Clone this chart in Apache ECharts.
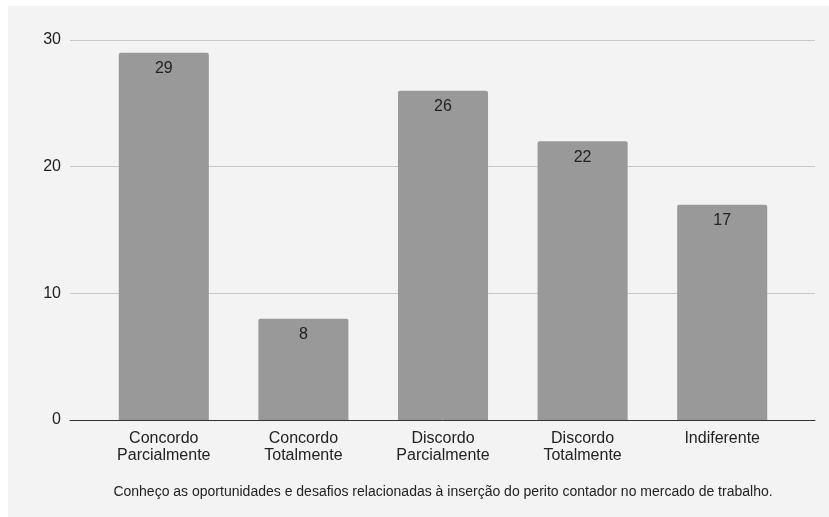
<!DOCTYPE html>
<html>
<head>
<meta charset="utf-8">
<script src="https://cdn.jsdelivr.net/npm/echarts@6/dist/echarts.min.js"></script>
<style>
  html, body { margin: 0; padding: 0; background: #ffffff; }
  #chart { position: absolute; left: 8px; top: 6px; width: 821px; height: 511px; }
</style>
</head>
<body>
<div id="chart"></div>
<script>
// Respostas por categoria
const categories = [
  'Concordo\nParcialmente',
  'Concordo\nTotalmente',
  'Discordo\nParcialmente',
  'Discordo\nTotalmente',
  'Indiferente'
];
const values = [29, 8, 26, 22, 17];
const yTicks = { min: 0, max: 30, interval: 10 };
const subtitle = 'Conheço as oportunidades e desafios relacionadas à inserção do perito contador no mercado de trabalho.';

const FONT = '"Liberation Sans", Arial, sans-serif';
const TEXT = '#222222';

const chart = echarts.init(document.getElementById('chart'), null, { renderer: 'canvas' });

chart.setOption({
  backgroundColor: '#f3f3f3',
  animation: false,
  grid: [
    // wide grid: gridlines, y labels and baseline
    { left: 62, right: 14, top: 34, bottom: 97 },
    // inner grid: bars and category labels
    { left: 86, right: 37, top: 34, bottom: 97 }
  ],
  xAxis: [
    {
      gridIndex: 0, type: 'category', data: [''],
      axisLine: { show: true, lineStyle: { color: '#333333', width: 1 } },
      axisTick: { show: false }, axisLabel: { show: false }
    },
    {
      gridIndex: 1, type: 'category', data: categories,
      axisLine: { show: false }, axisTick: { show: false },
      axisLabel: {
        fontFamily: FONT, fontSize: 16, color: TEXT,
        lineHeight: 17, margin: 10, interval: 0
      }
    }
  ],
  yAxis: [
    {
      gridIndex: 0, type: 'value',
      min: yTicks.min, max: yTicks.max, interval: yTicks.interval,
      axisLine: { show: false }, axisTick: { show: false },
      splitLine: { lineStyle: { color: '#c8c8c8', width: 1 } },
      axisLabel: { fontFamily: FONT, fontSize: 16, color: TEXT, margin: 9 }
    },
    {
      gridIndex: 1, type: 'value',
      min: yTicks.min, max: yTicks.max, interval: yTicks.interval,
      show: false
    }
  ],
  series: [{
    type: 'bar',
    xAxisIndex: 1, yAxisIndex: 1,
    data: values,
    barWidth: '64.5%',
    itemStyle: { color: '#999999', borderRadius: [2, 2, 0, 0] },
    label: {
      show: true, position: 'insideTop', distance: 8,
      fontFamily: FONT, fontSize: 16, color: TEXT
    }
  }],
  graphic: [{
    type: 'text',
    x: 435, y: 486,
    style: {
      text: subtitle,
      font: '14px ' + FONT,
      fill: TEXT,
      textAlign: 'center',
      textVerticalAlign: 'middle'
    }
  }]
});
</script>
</body>
</html>
